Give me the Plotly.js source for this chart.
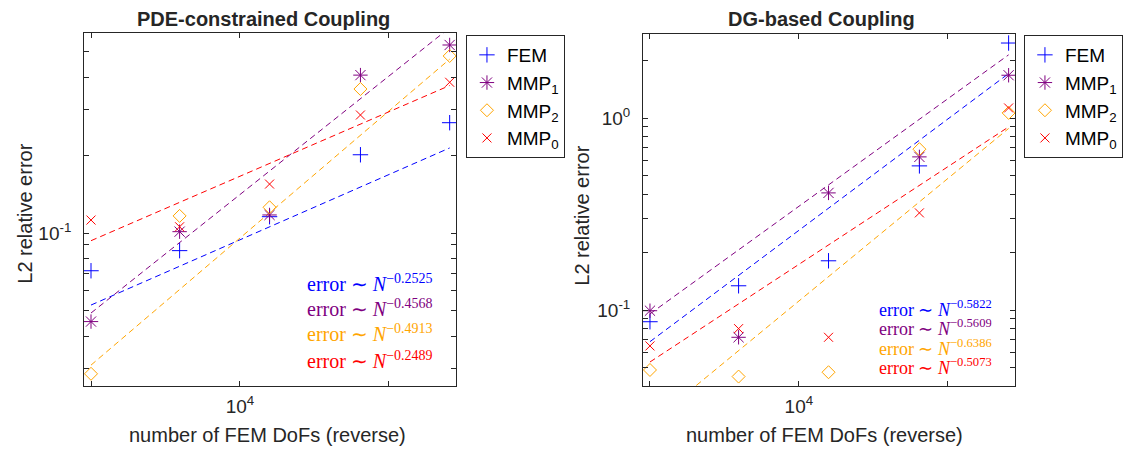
<!DOCTYPE html>
<html>
<head>
<meta charset="utf-8">
<script src="https://cdn.plot.ly/plotly-3.0.1.min.js"></script>
<style>html,body{margin:0;padding:0;background:#fff;}#chart{width:1123px;height:450px;}</style>
</head>
<body>
<div id="chart"></div>
<script>
// ---------- data ----------
const dofs = [100000, 25400, 6320, 1550, 390];          // number of FEM DoFs
const seriesNames = ['FEM', 'MMP<sub>1</sub>', 'MMP<sub>2</sub>', 'MMP<sub>0</sub>'];

// PDE-constrained coupling: L2 relative error
const pdeFEM  = [0.0715, 0.0855, 0.1156, 0.2005, 0.2666];
const pdeMMP1 = [0.0455, 0.1012, 0.1174, 0.407, 0.532];
const pdeMMP2 = [0.0286, 0.1164, 0.1257, 0.3597, 0.4825];
const pdeMMP0 = [0.1122, 0.1057, 0.1545, 0.2855, 0.382];
// fitted power-law lines (value at largest and smallest N)
const pdeFitFEM  = [0.0527, 0.213];
const pdeFitMMP1 = [0.0491, 0.62];
const pdeFitMMP2 = [0.0309, 0.469];
const pdeFitMMP0 = [0.0934, 0.371];
const pdeExponents = ['0.2525', '0.4568', '0.4913', '0.2489'];

// DG-based coupling: L2 relative error
const dgFEM  = [0.0869, 0.1338, 0.1806, 0.5643, 2.466];
const dgMMP1 = [0.0992, 0.0721, 0.408, 0.6286, 1.675];
const dgMMP2 = [0.0487, 0.0450, 0.0474, 0.6896, 1.066];
const dgMMP0 = [0.0650, 0.0800, 0.0721, 0.321, 1.131];
const dgFitFEM  = [0.0684, 1.709];
const dgFitMMP1 = [0.0955, 2.14];
const dgFitMMP2 = [0.0256, 0.884];
const dgFitMMP0 = [0.0536, 0.901];
const dgExponents = ['0.5822', '0.5609', '0.6386', '0.5073'];

// tick values / labels
const xTickVals = [1e4];
const xTickText = ['10<sup>4</sup>'];
const xMinorVals = [1e5, 1e3];
const pdeYTickVals = [0.1];
const pdeYTickText = ['10<sup>-1</sup>'];
const pdeYMinorVals = [0.03,0.04,0.05,0.06,0.07,0.08,0.09,0.2,0.3,0.4,0.5];
const dgYTickVals = [0.1, 1];
const dgYTickText = ['10<sup>-1</sup>', '10<sup>0</sup>'];
const dgYMinorVals = [0.05,0.06,0.07,0.08,0.09,0.2,0.3,0.4,0.5,0.6,0.7,0.8,0.9,2];

// ---------- styling ----------
const colors = ['#0000ff', '#800080', '#ffa500', '#ff0000'];
const symbols = ['cross-thin-open', 'asterisk-open', 'diamond-open', 'x-thin-open'];
const sizes = [11, 12, 10, 9];
const W = 1123, H = 450;
const px = x => x / W, py = y => 1 - y / H;
const axisColor = '#262626';
const sans = 'Liberation Sans, Arial, sans-serif';
const serif = 'Liberation Serif, Times New Roman, serif';

const fitEnds = [dofs[0], dofs[dofs.length - 1]];
const traces = [];
function addPanel(vals, fits, xa, ya, legendName) {
  vals.forEach((v, i) => {
    traces.push({
      x: fitEnds, y: fits[i], xaxis: xa, yaxis: ya, mode: 'lines',
      line: {color: colors[i], width: 1, dash: '6px,4px'},
      showlegend: false, hoverinfo: 'skip'
    });
  });
  vals.forEach((v, i) => {
    traces.push({
      x: dofs, y: v, xaxis: xa, yaxis: ya, mode: 'markers', name: seriesNames[i],
      legend: legendName,
      marker: {symbol: symbols[i], size: sizes[i], color: colors[i], line: {color: colors[i], width: 1}}
    });
  });
}
addPanel([pdeFEM, pdeMMP1, pdeMMP2, pdeMMP0], [pdeFitFEM, pdeFitMMP1, pdeFitMMP2, pdeFitMMP0], 'x', 'y', 'legend');
addPanel([dgFEM, dgMMP1, dgMMP2, dgMMP0], [dgFitFEM, dgFitMMP1, dgFitMMP2, dgFitMMP0], 'x2', 'y2', 'legend2');

function minorTicks(vals) {
  return {tickmode: 'array', tickvals: vals, ticks: 'inside', ticklen: 5, tickwidth: 1, tickcolor: axisColor, showgrid: false};
}
function xAxis(domain, anchor) {
  return {
    domain: domain, anchor: anchor, type: 'log', range: [5.0465, 2.548],
    tickmode: 'array', tickvals: xTickVals, ticktext: xTickText, ticks: 'inside', ticklen: 5, tickwidth: 1,
    tickcolor: axisColor, showline: true, linecolor: axisColor, linewidth: 1, mirror: 'ticks',
    showgrid: false, zeroline: false, ticklabelstandoff: 3,
    minor: minorTicks(xMinorVals),
    tickfont: {family: sans, size: 19, color: axisColor}
  };
}
function yAxis(domain, anchor, range, tv, tt, mv) {
  return {
    domain: domain, anchor: anchor, type: 'log', range: range,
    tickmode: 'array', tickvals: tv, ticktext: tt, ticks: 'inside', ticklen: 5, tickwidth: 1,
    tickcolor: axisColor, showline: true, linecolor: axisColor, linewidth: 1, mirror: 'ticks',
    showgrid: false, zeroline: false, ticklabelstandoff: 8,
    minor: minorTicks(mv),
    tickfont: {family: sans, size: 19, color: axisColor}
  };
}

const annotations = [];
function txt(text, x, y, size, extra) {
  annotations.push(Object.assign({text: text, xref: 'paper', yref: 'paper', x: px(x), y: py(y),
    showarrow: false, xanchor: 'center', yanchor: 'middle',
    font: {family: sans, size: size, color: axisColor}}, extra || {}));
}
txt('<b>PDE-constrained Coupling</b>', 266, 19, 20);
txt('<b>DG-based Coupling</b>', 830, 19, 20);
txt('number of FEM DoFs (reverse)', 270, 435, 20);
txt('number of FEM DoFs (reverse)', 833, 435, 20);
txt('L2 relative error', 25, 214, 20, {textangle: -90});
txt('L2 relative error', 588, 216, 20, {textangle: -90});

const pdeRowsY = [283, 308, 333, 360];
const dgRowsY = [308, 327.5, 347, 366.5];
pdeExponents.forEach((e, i) => {
  annotations.push({text: 'error ∼ <i>N</i><sup>−' + e + '</sup>', xref: 'paper', yref: 'paper',
    x: px(440), y: py(pdeRowsY[i]), xanchor: 'right', yanchor: 'middle', showarrow: false,
    font: {family: serif, size: 20, color: colors[i]}});
});
dgExponents.forEach((e, i) => {
  annotations.push({text: 'error ∼ <i>N</i><sup>−' + e + '</sup>', xref: 'paper', yref: 'paper',
    x: px(1005), y: py(dgRowsY[i]), xanchor: 'right', yanchor: 'middle', showarrow: false,
    height: 19, valign: 'middle',
    font: {family: serif, size: 18, color: colors[i]}});
});

const legendStyle = (x) => ({
  x: px(x), y: py(35), xanchor: 'left', yanchor: 'top', xref: 'paper', yref: 'paper',
  bgcolor: '#ffffff', bordercolor: axisColor, borderwidth: 1,
  font: {family: sans, size: 19, color: '#000000'}, itemwidth: 30, tracegroupgap: 0
});

const layout = {
  width: W, height: H, margin: {l: 0, r: 0, t: 0, b: 0},
  paper_bgcolor: '#ffffff', plot_bgcolor: '#ffffff',
  xaxis: xAxis([px(85), px(461)], 'y'),
  yaxis: yAxis([py(386), py(33)], 'x', [-1.5907, -0.2278], pdeYTickVals, pdeYTickText, pdeYMinorVals),
  xaxis2: xAxis([px(650), px(1026)], 'y2'),
  yaxis2: yAxis([py(386), py(34)], 'x2', [-1.396, 0.439], dgYTickVals, dgYTickText, dgYMinorVals),
  legend: legendStyle(471),
  legend2: legendStyle(1035),
  annotations: annotations,
  showlegend: true
};

Plotly.newPlot('chart', traces, layout, {staticPlot: true, displayModeBar: false});
</script>
</body>
</html>
